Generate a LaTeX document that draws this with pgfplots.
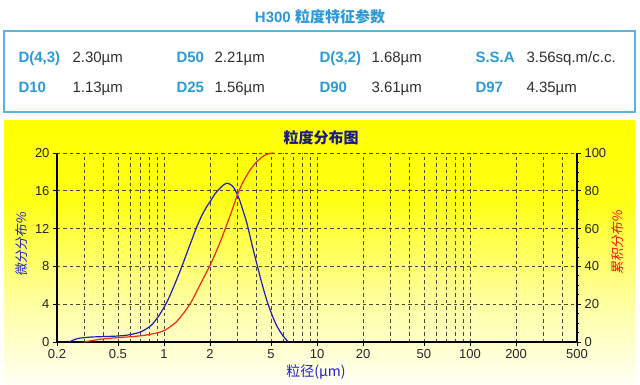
\documentclass[border=0pt]{standalone}
\usepackage{pgfplots}
\pgfplotsset{compat=1.18}
\usepackage{fontspec}
\setmainfont{Liberation Sans}
\newfontfamily\cjk{Noto Sans CJK SC}
\newfontfamily\cjksl[FakeSlant=0.15]{Noto Sans CJK SC}
\definecolor{ttlblue}{HTML}{2B9AD6}
\definecolor{boxblue}{HTML}{5AB4E0}
\definecolor{valgray}{HTML}{303030}
\definecolor{navy}{HTML}{1A1A80}
\definecolor{curveblue}{HTML}{1C1CC0}
\definecolor{curvered}{HTML}{F02A10}
\definecolor{gridc}{HTML}{4A4A3A}
\definecolor{lblblue}{HTML}{2020D0}
\definecolor{lblred}{HTML}{E81818}
\begin{document}
\begin{tikzpicture}[x=1pt,y=1pt]
\path[use as bounding box] (0,0) rectangle (640,384);
\fill[white] (0,0) rectangle (640,384);
% yellow panel
\shade[top color=yellow, bottom color=yellow!92] (4,184) rectangle (635,264);
\shade[top color=yellow!92, bottom color=yellow!38] (4,84) rectangle (635,184.2);
\shade[top color=yellow!38, bottom color=yellow!4] (4,0) rectangle (635,84.2);
% parameter box
\draw[boxblue, line width=1.2pt] (4,272) rectangle (635,353);
\node[ttlblue, font=\bfseries\fontsize{15}{18}\selectfont] at (320,367) {H300 {\cjk 粒度特征参数}};
\tikzset{lab/.style={anchor=base west, ttlblue, font=\bfseries\fontsize{15}{18}\selectfont},
         val/.style={anchor=base west, valgray, font=\fontsize{15}{18}\selectfont}}
\node[lab] at (15,322) {D(4,3)};
\node[val] at (69,322) {2.30µm};
\node[lab] at (173,322) {D50};
\node[val] at (211,322) {2.21µm};
\node[lab] at (316,322) {D(3,2)};
\node[val] at (368,322) {1.68µm};
\node[lab] at (472,322) {S.S.A};
\node[val] at (523,322) {3.56sq.m/c.c.};
\node[lab] at (15,292) {D10};
\node[val] at (69,292) {1.13µm};
\node[lab] at (173,292) {D25};
\node[val] at (211,292) {1.56µm};
\node[lab] at (316,292) {D90};
\node[val] at (368,292) {3.61µm};
\node[lab] at (472,292) {D97};
\node[val] at (523,292) {4.35µm};
% chart
\begin{axis}[at={(57pt,42pt)}, anchor=south west, scale only axis,
  width=520pt, height=189pt,
  xmode=log, xmin=0.2, xmax=500, ymin=0, ymax=20,
  axis x line*=bottom, axis y line*=left,
  axis line style={line width=1.6pt, black},
  xtick={0.2,0.5,1,2,5,10,20,50,100,200,500},
  xticklabels={0.2,0.5,1,2,5,10,20,50,100,200,500},
  minor xtick={0.3,0.4,0.6,0.7,0.8,0.9,3,4,6,7,8,9,30,40,60,70,80,90,300,400},
  ytick={0,4,8,12,16,20},
  grid=both,
  major grid style={dash pattern=on 3.5pt off 3pt, gridc, line width=0.75pt},
  minor grid style={dash pattern=on 3.5pt off 3pt, gridc, line width=0.75pt},
  tick align=outside, major tick length=4pt, minor tick length=0pt,
  tick style={black, line width=0.8pt},
  ticklabel style={font=\fontsize{13}{15}\selectfont, text=black!85},
  /pgf/number format/assume math mode=true,
  clip mode=individual,
]
\addplot[curveblue, line width=1.2pt, smooth, tension=0.4] coordinates {
(0.24,0) (0.26,0.25) (0.28,0.4) (0.33,0.52) (0.38,0.56) (0.45,0.6) (0.51,0.64)
(0.57,0.72) (0.63,0.85) (0.70,1.05) (0.76,1.35) (0.83,1.8) (0.92,2.7) (1.02,3.9)
(1.1,5.0) (1.21,6.6) (1.31,8.0) (1.41,9.4) (1.52,10.8) (1.64,12.2) (1.77,13.4)
(1.90,14.3) (2.03,15.0) (2.16,15.7) (2.3,16.2) (2.44,16.6) (2.57,16.8) (2.70,16.7)
(2.84,16.4) (2.98,15.8) (3.14,14.9) (3.30,13.8) (3.48,12.6) (3.65,11.2) (3.84,9.7)
(4.04,8.3) (4.25,6.9) (4.47,5.6) (4.70,4.4) (4.94,3.4) (5.19,2.5) (5.46,1.7)
(5.74,1.1) (6.03,0.6) (6.34,0.2) (6.5,0)
};
\end{axis}
\begin{axis}[at={(57pt,42pt)}, anchor=south west, scale only axis,
  width=520pt, height=189pt,
  xmode=log, xmin=0.2, xmax=500, ymin=0, ymax=100,
  axis x line=none, axis y line*=right,
  axis line style={line width=1.6pt, black},
  ytick={0,20,40,60,80,100}, minor y tick num=3,
  tick align=outside, major tick length=4pt, minor tick length=2.5pt,
  tick style={black, line width=0.8pt},
  ticklabel style={font=\fontsize{13}{15}\selectfont, text=black!85},
  /pgf/number format/assume math mode=true,
  clip=false,
]
\addplot[curvered, line width=1.2pt, smooth, tension=0.4] coordinates {
(0.30,0) (0.33,0.6) (0.38,1.4) (0.45,2.0) (0.52,2.4) (0.63,2.9) (0.72,3.4)
(0.81,4.0) (0.92,5.0) (1.02,6.3) (1.13,8.8) (1.21,10.8) (1.35,15.5) (1.49,20.5)
(1.56,23.5) (1.74,31) (1.9,37) (2.03,41.6) (2.21,48.5) (2.36,54) (2.53,60.5)
(2.71,67) (2.85,72) (2.99,77) (3.15,81.5) (3.30,85) (3.47,88) (3.65,91)
(3.84,93.3) (4.04,95.4) (4.25,97) (4.47,98.4) (4.7,99.3) (4.94,99.8) (5.2,100)
};
\end{axis}
\node[navy, font=\cjk\bfseries\fontsize{15}{18}\selectfont] at (321,246) {粒度分布图};
\node[lblblue, font=\cjk\fontsize{14}{16}\selectfont] at (316,12) {粒径(µm)};
\node[lblblue, rotate=90, font=\cjksl\fontsize{13}{15}\selectfont] at (22,139) {微分分布\%};
\node[lblred, rotate=90, font=\cjksl\fontsize{13}{15}\selectfont] at (618,141) {累积分布\%};
\end{tikzpicture}
\end{document}
